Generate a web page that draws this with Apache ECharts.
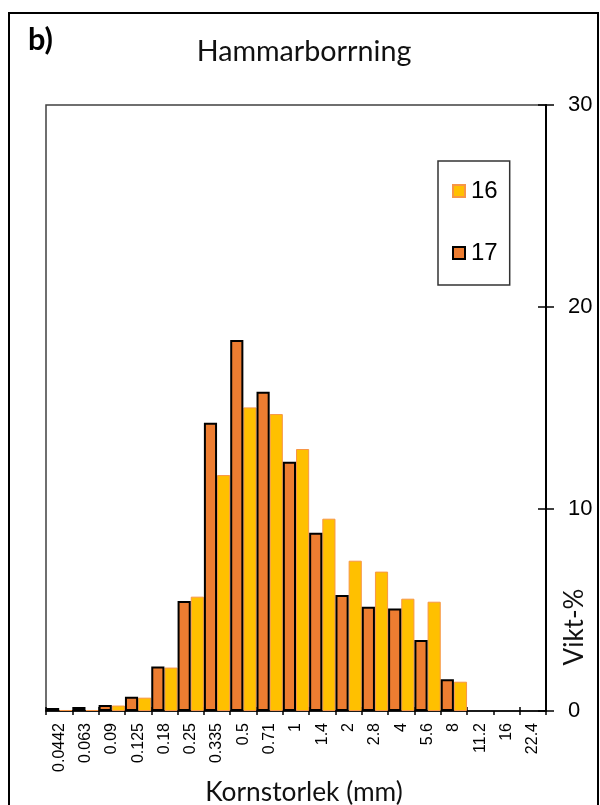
<!DOCTYPE html>
<html>
<head>
<meta charset="utf-8">
<script src="https://cdn.jsdelivr.net/npm/echarts@6/dist/echarts.min.js"></script>
<style>
  html, body { margin: 0; padding: 0; background: #fff; }
  #chart { width: 600px; height: 805px; }
</style>
</head>
<body>
<div id="chart"></div>
<script>
// ---- data ----
var categories = ['0.0442', '0.063', '0.09', '0.125', '0.18', '0.25', '0.335', '0.5', '0.71', '1', '1.4', '2', '2.8', '4', '5.6', '8', '11.2', '16', '22.4'];
var values16 = [0.05, 0.05, 0.27, 0.66, 2.15, 5.66, 11.68, 15.03, 14.7, 12.97, 9.52, 7.44, 6.9, 5.56, 5.41, 1.45, null, null, null];
var values17 = [0.15, 0.2, 0.3, 0.7, 2.2, 5.45, 14.27, 18.37, 15.8, 12.34, 8.83, 5.74, 5.16, 5.08, 3.51, 1.57, null, null, null];
var yTicks = { min: 0, max: 30, interval: 10 };
var seriesNames = ['16', '17'];
var titleText = 'Hammarborrning';
var panelLabel = 'b)';
var xName = 'Kornstorlek (mm)';
var yName = 'Vikt-%';

// ---- helpers ----
var measureCtx = document.createElement('canvas').getContext('2d');
function fitSize(text, family, weight, target) {
  measureCtx.font = weight + ' 100px ' + family;
  var w = measureCtx.measureText(text).width;
  return Math.round(100 * target / w * 10) / 10;
}
var calFamily = 'Lato';
var arial = '"Liberation Sans", Arial, sans-serif';
var titleSize = fitSize(titleText, calFamily, 'normal', 215);
var xNameSize = fitSize(xName, calFamily, 'normal', 198);
var yNameSize = fitSize(yName, calFamily, 'normal', 77);
var panelSize = fitSize(panelLabel, calFamily, 'bold', 25);

var chart = echarts.init(document.getElementById('chart'), null, { renderer: 'canvas' });

var option = {
  animation: false,
  backgroundColor: '#ffffff',
  grid: {
    left: 46, right: 54, top: 105, bottom: 94,
    show: true, borderColor: '#404040', borderWidth: 1.5,
    containLabel: false,
    outerBoundsMode: 'none'
  },
  legend: {
    data: seriesNames,
    orient: 'vertical',
    left: 438, top: 161,
    padding: [18, 12, 20, 14],
    itemWidth: 12, itemHeight: 12,
    itemGap: 38,
    icon: 'rect',
    borderColor: '#333', borderWidth: 1.5,
    textStyle: { fontFamily: arial, fontSize: 24, color: '#000', padding: [0, 0, 0, 1] }
  },
  graphic: [
    { type: 'rect', shape: { x: 9, y: 13, width: 589, height: 820 }, style: { fill: 'none', stroke: '#000', lineWidth: 2 }, silent: true },
    { type: 'text', style: { text: titleText, x: 304, y: 52, textAlign: 'center', textVerticalAlign: 'middle', fontFamily: calFamily, fontSize: titleSize, fill: '#111' } },
    { type: 'text', style: { text: panelLabel, x: 28, y: 40, textAlign: 'left', textVerticalAlign: 'middle', fontFamily: calFamily, fontWeight: 'bold', fontSize: panelSize, fill: '#000' } },
    { type: 'text', x: 575, y: 627, rotation: Math.PI / 2, style: { text: yName, x: 0, y: 0, textAlign: 'center', textVerticalAlign: 'middle', fontFamily: calFamily, fontSize: yNameSize, fill: '#111' } }
  ],
  xAxis: [
    {
      type: 'category', data: categories, position: 'bottom',
      boundaryGap: true,
      name: xName, nameLocation: 'middle', nameGap: 62,
      nameTextStyle: { fontFamily: calFamily, fontSize: xNameSize, color: '#111', padding: [0, 0, 0, 16] },
      axisLine: { show: true, lineStyle: { color: '#000', width: 1.5 } },
      axisTick: { show: true, inside: false, length: 4, lineStyle: { color: '#000', width: 1.5 } },
      axisLabel: { rotate: 90, interval: 0, margin: 12, fontFamily: arial, fontSize: 16, color: '#000' },
      splitLine: { show: false }
    },
    {
      type: 'category', data: categories, position: 'bottom',
      boundaryGap: true,
      axisLine: { show: false },
      axisTick: { show: true, inside: true, length: 4, lineStyle: { color: '#000', width: 1.5 } },
      axisLabel: { show: false },
      splitLine: { show: false }
    }
  ],
  yAxis: [
    {
      type: 'value', position: 'right',
      min: yTicks.min, max: yTicks.max, interval: yTicks.interval,
      axisLine: { show: true, lineStyle: { color: '#000', width: 2 } },
      axisTick: { show: true, inside: false, length: 8, lineStyle: { color: '#000', width: 1.5 } },
      axisLabel: { margin: 22, fontFamily: arial, fontSize: 22, color: '#000' },
      splitLine: { show: false }
    },
    {
      type: 'value', position: 'right',
      min: yTicks.min, max: yTicks.max, interval: yTicks.interval,
      axisLine: { show: false },
      axisTick: { show: true, inside: true, length: 8, lineStyle: { color: '#000', width: 1.5 } },
      axisLabel: { show: false },
      splitLine: { show: false }
    }
  ],
  series: [
    {
      name: seriesNames[1], type: 'bar', data: values17,
      barGap: '0%', barCategoryGap: '0%',
      z: 3,
      itemStyle: { color: '#ED7D31', borderColor: '#000', borderWidth: 2 }
    },
    {
      name: seriesNames[0], type: 'bar', data: values16,
      barGap: '0%', barCategoryGap: '0%',
      z: 2,
      itemStyle: { color: '#FFC000', borderColor: '#F79646', borderWidth: 1 }
    }
  ]
};
chart.setOption(option);
</script>
</body>
</html>
